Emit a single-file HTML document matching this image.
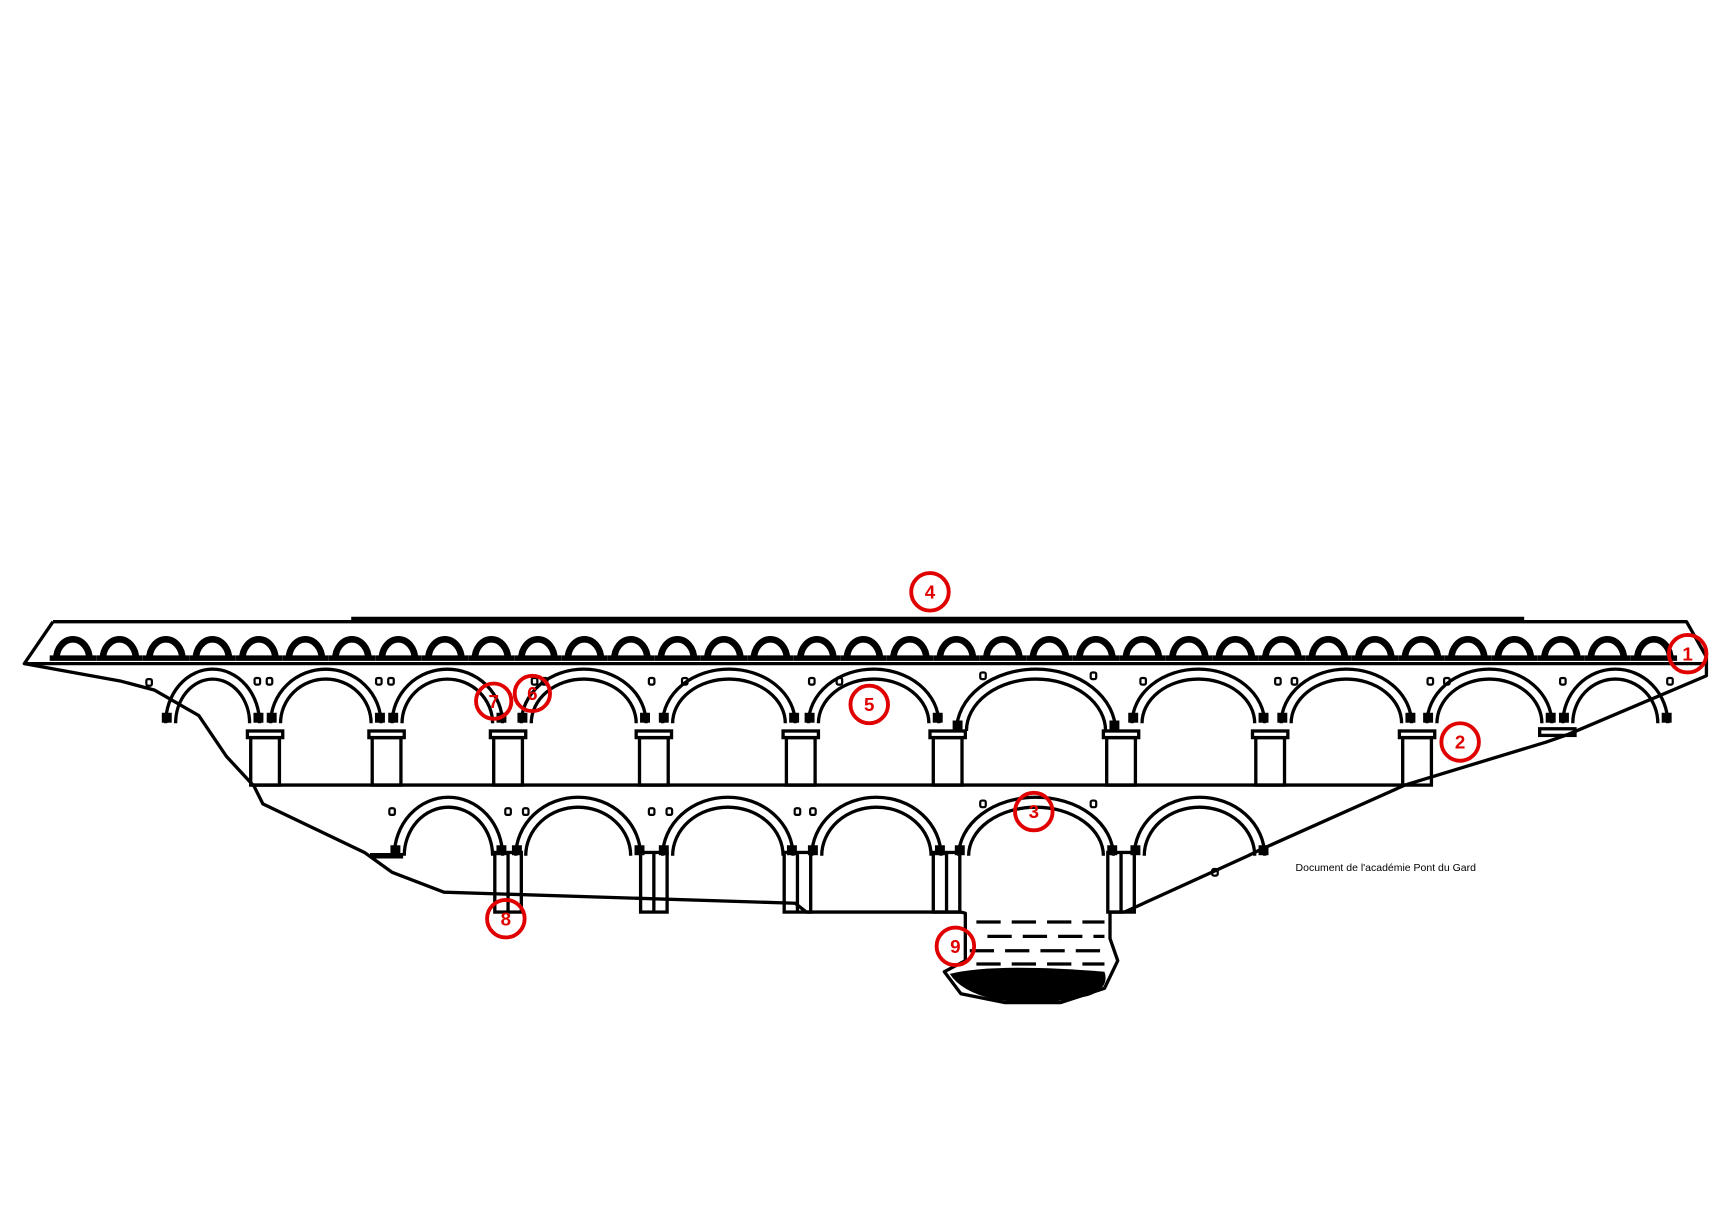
<!DOCTYPE html>
<html><head><meta charset="utf-8"><style>html,body{margin:0;padding:0;background:#fff}svg{display:block}</style></head>
<body>
<svg id="s" width="1723" height="1208" viewBox="0 0 1560 1094" preserveAspectRatio="none" xmlns="http://www.w3.org/2000/svg">
<rect width="1560" height="1094" fill="#fff"/>
<g id="g" fill="none" stroke="#000" stroke-width="3" stroke-linejoin="round">
<polyline points="48,563 1527,563 1545,595 1545,612 1420,665 1400,672 1272,711"/>
<line x1="318" y1="561" x2="1380" y2="561" stroke-width="5"/>
<polyline points="48,563 22,601 110,617 140,625 180,648 205,685 230,712 238,728 330,772 355,790 402,808 720,818 730,826 870,826"/>
<line x1="22" y1="601" x2="1545" y2="601"/>
<line x1="228" y1="711" x2="1272" y2="711"/>
<polyline points="1018,826 1130,775 1140,770 1272,711"/>
<polyline points="870,826 874,827 874,870 855,880 870,900 910,908 960,908 1000,895 1012,870 1005,850 1005,826 1018,826"/>
<line x1="335" y1="775" x2="365" y2="775" stroke-width="5"/>
</g>
<g fill="#000">
<path d="M860,882 Q900,872 1000,880 Q1005,895 985,902 Q940,912 900,905 Q870,898 860,882Z"/>
</g>
<g stroke="#000" stroke-width="3" stroke-dasharray="22,10">
<line x1="884" y1="835" x2="1000" y2="835"/>
<line x1="894" y1="848" x2="1000" y2="848"/>
<line x1="878" y1="861" x2="1000" y2="861"/>
<line x1="884" y1="873" x2="1000" y2="873"/>
<line x1="895" y1="886" x2="1000" y2="886"/>
</g>
<g id="arches" fill="none" stroke="#000" stroke-width="3"></g>
<g fill="none" stroke="#e00000" stroke-width="3.5">
<circle cx="842" cy="536" r="17"/><circle cx="1528" cy="592" r="17"/>
<circle cx="447" cy="635" r="16"/><circle cx="482" cy="628" r="16"/>
<circle cx="787" cy="638" r="17"/><circle cx="1322" cy="672" r="17"/>
<circle cx="936" cy="735" r="17"/><circle cx="458" cy="832" r="17"/>
<circle cx="865" cy="857" r="17"/>
</g>
<g fill="#e00000" font-family="Liberation Sans, sans-serif" font-size="17" font-weight="bold" text-anchor="middle">
<text x="842" y="542">4</text><text x="1528" y="598">1</text><text x="447" y="641">7</text>
<text x="482" y="634">6</text><text x="787" y="644">5</text><text x="1322" y="678">2</text>
<text x="936" y="741">3</text><text x="458" y="838">8</text><text x="865" y="863">9</text>
</g>
<text x="1173" y="789" font-family="Liberation Sans, sans-serif" font-size="9.5" fill="#000">Document de l'académie Pont du Gard</text>
</svg>
<script>
var NS="http://www.w3.org/2000/svg",g=document.getElementById("arches");
function el(t,a){var e=document.createElementNS(NS,t);for(var k in a)e.setAttribute(k,a[k]);g.appendChild(e);return e;}
for(var i=0;i<35;i++){var cx=66+i*42.1;
 el("path",{d:"M"+(cx-15)+",597 A15,18 0 0 1 "+(cx+15)+",597","stroke-width":"6"});
 el("line",{x1:cx-21,y1:596,x2:cx+21,y2:596,"stroke-width":"5"});}
function arch(L,R,C,S){var rx=(R-L)/2,ry=S-C;
 el("path",{d:"M"+L+","+S+" A"+rx+","+ry+" 0 0 1 "+R+","+S});
 el("path",{d:"M"+(L+9)+","+S+" A"+(rx-9)+","+(ry-9)+" 0 0 1 "+(R-9)+","+S});
 el("rect",{x:L-2,y:S-8,width:6,height:6,fill:"#000"});el("rect",{x:R-4,y:S-8,width:6,height:6,fill:"#000"});}
var mid=[[150,235],[245,345],[355,455],[472,585],[600,720],[732,850],[866,1010],[1025,1145],[1160,1278],[1292,1405],[1415,1510]];
mid.forEach(function(a){arch(a[0],a[1],606,a[0]==866?662:655);});
[240,350,460,592,725,858,1015,1150,1283].forEach(function(x){
 el("rect",{x:x-13,y:668,width:26,height:43});el("rect",{x:x-16,y:662,width:32,height:6});});
el("rect",{x:1394,y:660,width:32,height:6});
var bot=[[357,455],[467,580],[600,718],[735,852],[868,1008],[1027,1145]];
bot.forEach(function(a){arch(a[0],a[1],722,775);});
[460,592,722,857,1015].forEach(function(x){el("rect",{x:x-12,y:772,width:24,height:54});el("line",{x1:x,y1:772,x2:x,y2:826});});
[[135,618],[233,617],[244,617],[343,617],[354,617],[484,617],[493,617],[590,617],[620,617],[735,617],[760,617],[890,612],[990,612],[1035,617],[1157,617],[1172,617],[1295,617],[1310,617],[1415,617],[1512,617],
 [355,735],[460,735],[476,735],[590,735],[606,735],[722,735],[736,735],[890,728],[990,728],[1100,790]].forEach(function(p){
 el("rect",{x:p[0]-2.5,y:p[1]-3,width:5,height:6,rx:1.5,"stroke-width":"2"});});
</script>
</body></html>
